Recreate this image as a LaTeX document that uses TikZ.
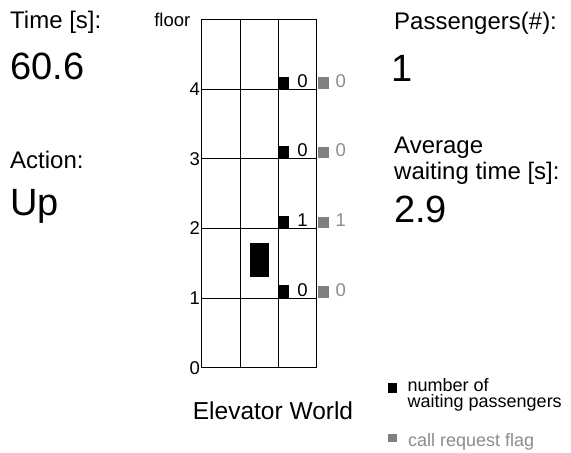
\documentclass[tikz,border=0pt]{standalone}
\usepackage{fontspec}
\setmainfont{Liberation Sans}
\definecolor{flaggray}{HTML}{808080}
\definecolor{flagtext}{HTML}{8C8C8C}
\tikzset{
  txt/.style={inner sep=0pt, anchor=base west},
  big/.style={txt, font=\fontsize{38}{44}\selectfont},
  mid/.style={txt, font=\fontsize{24}{28}\selectfont},
  small/.style={inner sep=0pt, font=\fontsize{18.5}{20}\selectfont},
  legend/.style={inner sep=0pt, font=\fontsize{18}{20}\selectfont},
  gridline/.style={line width=0.9pt, black},
  waitbox/.style={fill=black},
  flagbox/.style={fill=flaggray},
}
\begin{document}
\begin{tikzpicture}[x=1pt,y=-1pt]
\useasboundingbox (0,0) rectangle (571,453);
% left panel
\node[mid] (tl) at (10,28) {Time [s]:};
\node[big] (tv) at (10,79) {60.6};
\node[mid] (al) at (10,168) {Action:};
\node[big] (av) at (10,215) {Up};
% right panel
\node[mid] (pl) at (394,29) {Passengers(\#):};
\node[big] (pv) at (391,81.5) {1};
\node[mid] (wl1) at (394,153) {Average};
\node[mid] (wl2) at (394,179.5) {waiting time [s]:};
\node[big] (wv) at (394,222) {2.9};
% grid
\draw[gridline] (201.7,19.7) rectangle (316.7,367.7);
\draw[gridline] (240,19.7) -- (240,367.7);
\draw[gridline] (278.3,19.7) -- (278.3,367.7);
\foreach \f in {1,2,3,4}{
  \draw[gridline] (201.7,367.7-69.6*\f) -- (316.7,367.7-69.6*\f);
}
\foreach \f in {0,1,2,3,4}{
  \node[small, anchor=east] (fl\f) at (200,367.7-69.6*\f) {\f};
}
\node[small, anchor=east] (floorlbl) at (190.5,20) {floor};
% waiting passengers and flags
\foreach \f/\n/\r in {1/0/0,2/1/1,3/0/0,4/0/0}{
  \pgfmathsetmacro{\yy}{367.7-69.6*\f}
  \fill[waitbox] (278.3,\yy-12.7) rectangle (289.3,\yy);
  \fill[flagbox] (317.7,\yy-12) rectangle (329,\yy-0.6);
  \node[small, anchor=base] (n\f) at (302.5,\yy-2) {\n};
  \node[small, anchor=base, text=flagtext] (r\f) at (340.7,\yy-2) {\r};
}
% elevator car
\fill[black] (250,242.7) rectangle (268.7,277.3);
% caption
\node[inner sep=0pt, anchor=base, font=\fontsize{24.5}{28}\selectfont] (cap) at (273,419) {Elevator World};
% legend
\fill[waitbox] (388.3,383.3) rectangle (396.7,393.3);
\node[legend, anchor=base west] (lg1) at (407.5,391) {number of};
\node[legend, anchor=base west] (lg2) at (407.5,407.3) {waiting passengers};
\fill[flagbox] (388.3,434) rectangle (396.7,442.3);
\node[legend, anchor=base west, text=flagtext] (lg3) at (408,446) {call request flag};
\end{tikzpicture}
\end{document}
